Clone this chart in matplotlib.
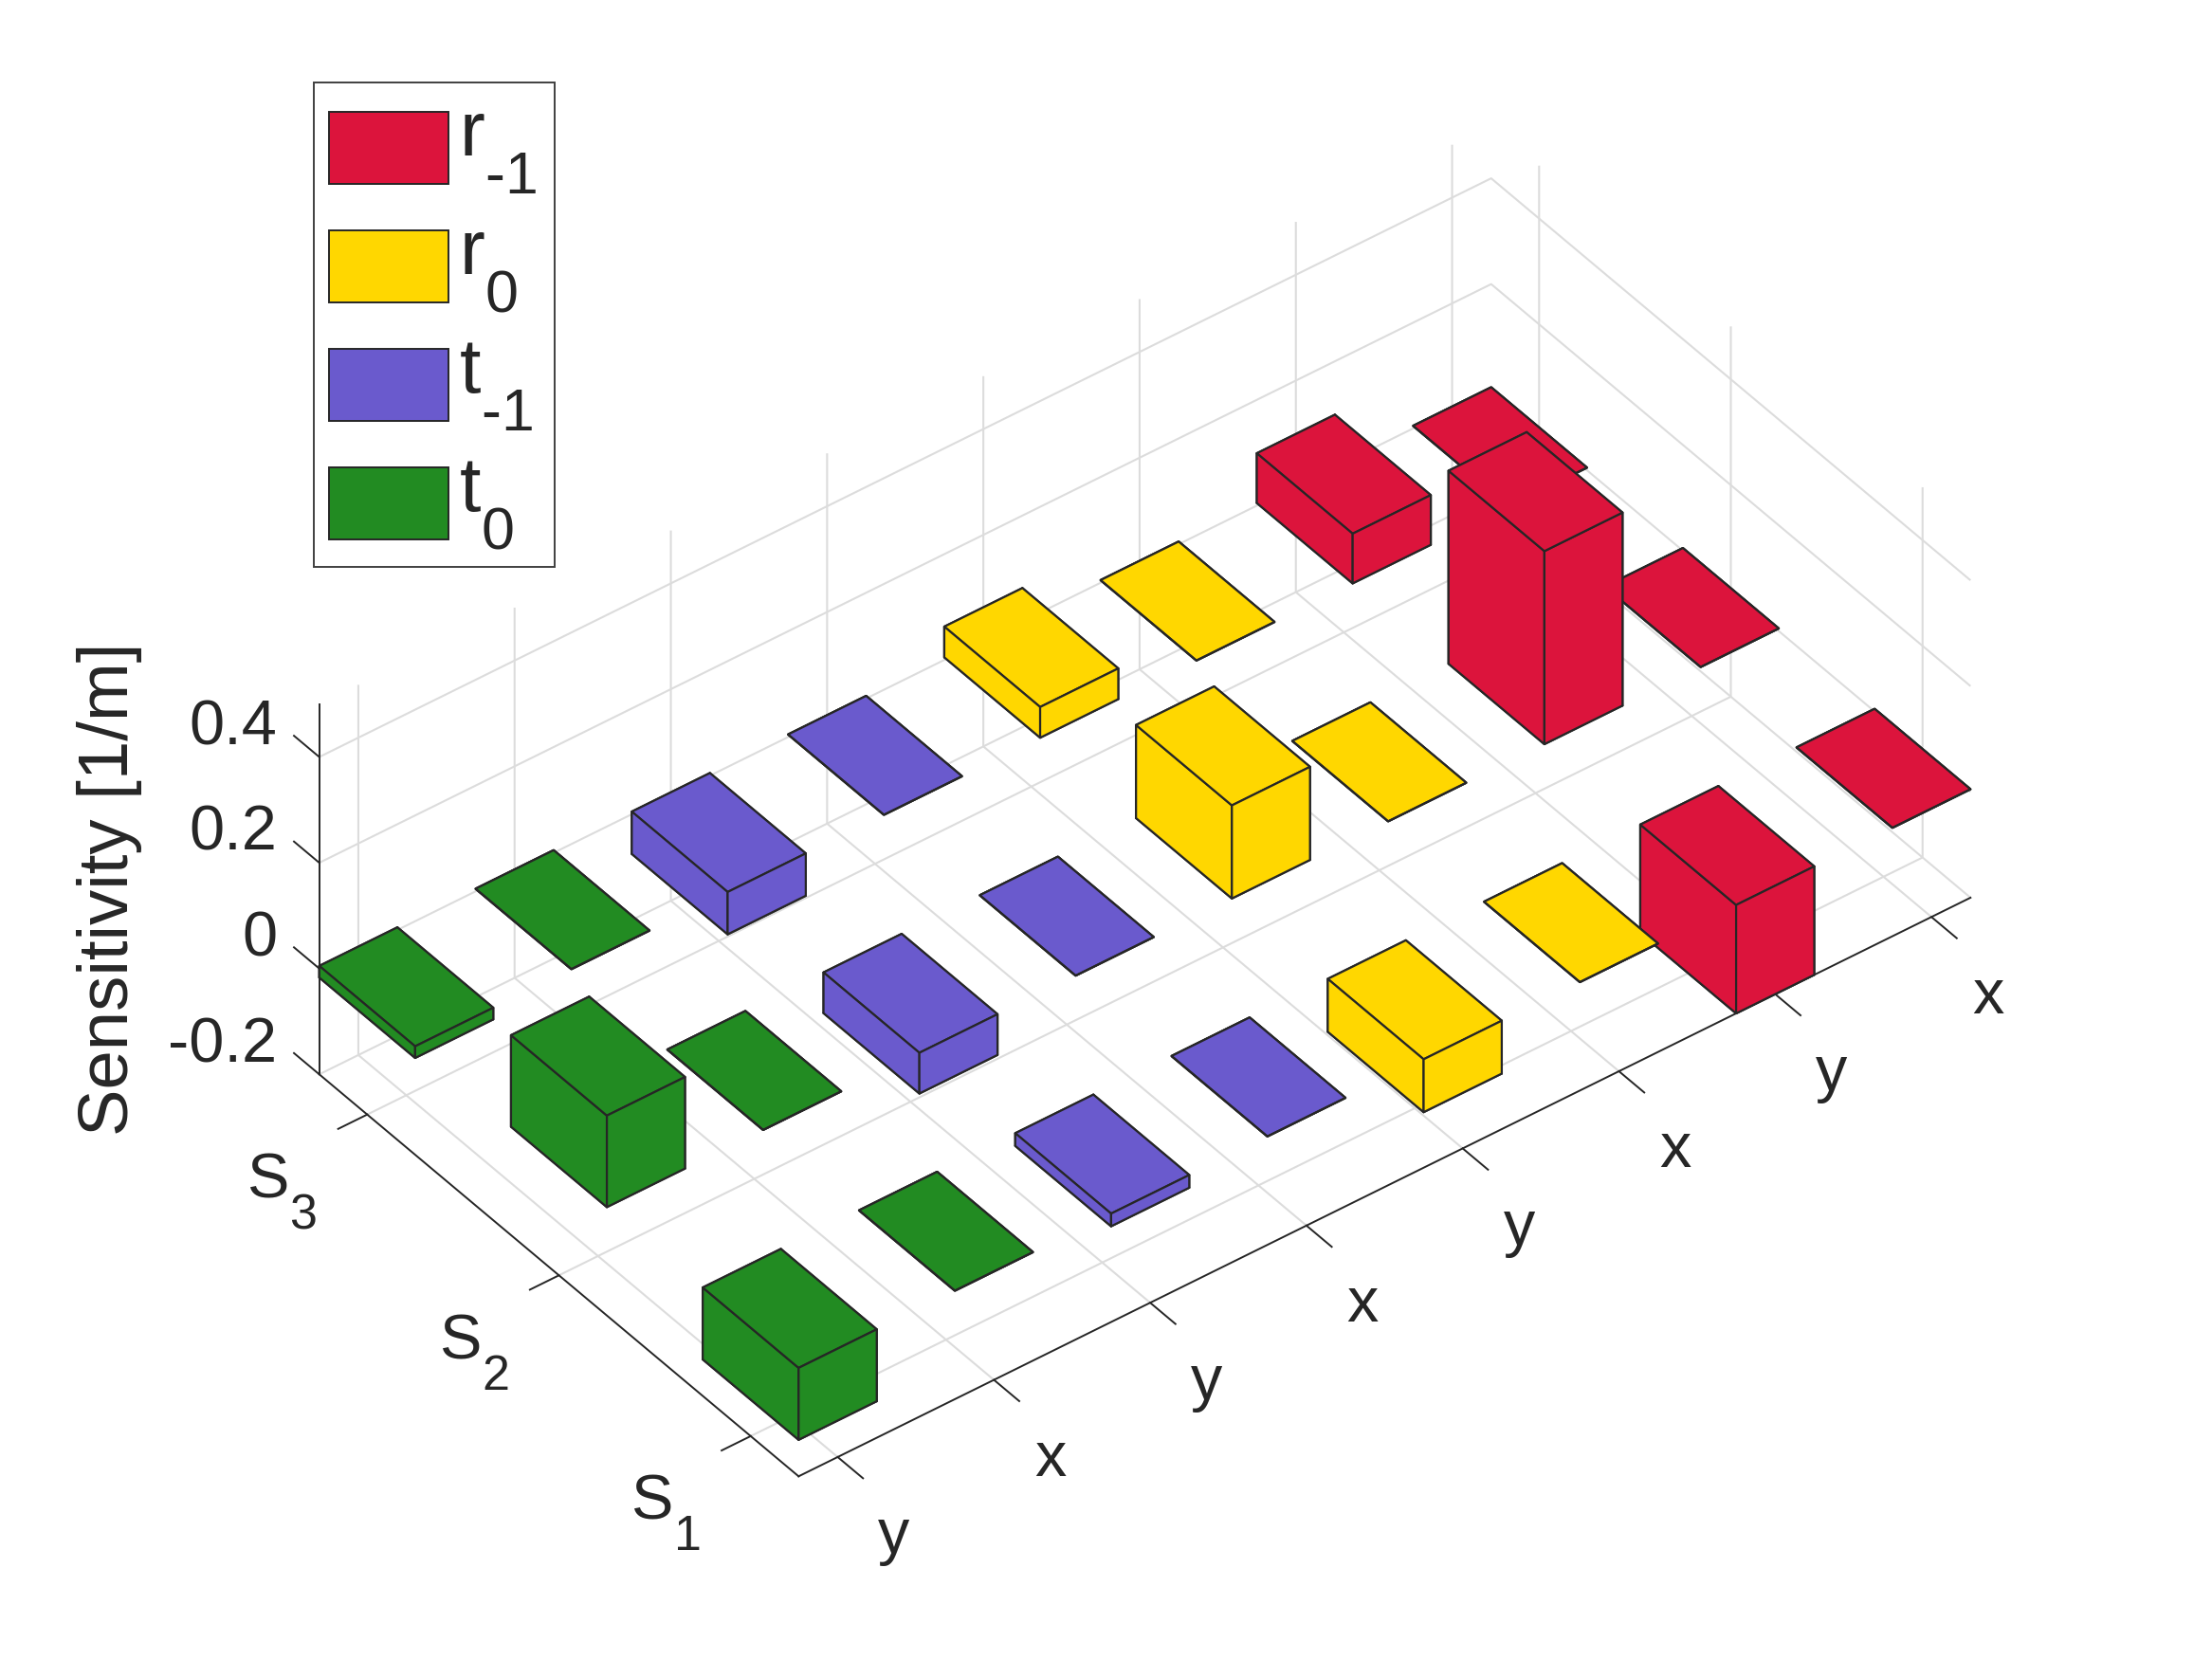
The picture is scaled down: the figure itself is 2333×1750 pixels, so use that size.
import matplotlib
matplotlib.use('Agg')
import matplotlib.pyplot as plt
import matplotlib._mathtext as _mt
from matplotlib.patches import Patch, Rectangle
from matplotlib.transforms import Affine2D
from mpl_toolkits.mplot3d import proj3d

_mt.SHRINK_FACTOR = 0.78
_mt.FontConstantsBase.sub1 = 0.95

# ---- data ----
x_labels = ['y', 'x', 'y', 'x', 'y', 'x', 'y', 'x']
y_labels = ['S$_{1}$', 'S$_{2}$', 'S$_{3}$']
z_ticks = [-0.2, 0, 0.2, 0.4]
z_labels = ['-0.2', '0', '0.2', '0.4']
base_level = 0.005
s1_values = [-0.136, 0, -0.024, 0, -0.10, 0, -0.205, 0]
s2_values = [0.173, 0, -0.077, 0, 0.176, 0, 0.365, 0]
s3_values = [-0.022, 0, -0.08, 0, 0.058, 0, 0.094, 0]
legend_labels = ['r$_{\u20101}$', 'r$_{0}$', 't$_{\u20101}$', 't$_{0}$']
crimson, gold, slate, forest = '#DC143C', '#FFD700', '#6A5ACD', '#228B22'
bar_colors = [forest, forest, slate, slate, gold, gold, crimson, crimson]
legend_colors = [crimson, gold, slate, forest]

INK = '#262626'
W, H, DPI = 2333, 1750, 200

plt.rcParams.update({
    'font.family': ['Liberation Sans', 'DejaVu Sans'],
    'mathtext.fontset': 'custom',
    'mathtext.rm': 'Liberation Sans',
    'mathtext.it': 'Liberation Sans:italic',
    'mathtext.bf': 'Liberation Sans:bold',
    'text.color': INK,
    'axes.edgecolor': INK,
    'axes.labelcolor': INK,
    'axes.linewidth': 0.7,
    'xtick.color': INK, 'ytick.color': INK,
    'xtick.major.width': 0.7, 'ytick.major.width': 0.7,
    'grid.color': '#dcdcdc', 'grid.linewidth': 0.75,
})

fig = plt.figure(figsize=(W / DPI, H / DPI), dpi=DPI, facecolor='white')
ax = fig.add_axes([0, 0, 1, 1], projection='3d', proj_type='ortho',
                  computed_zorder=False)
ax.patch.set_alpha(0)

order = 0
rows = [s1_values, s2_values, s3_values]
for r in range(len(rows) - 1, -1, -1):
    for c in range(len(x_labels) - 1, -1, -1):
        ax.bar3d(c + 1 - 0.25, r + 1 - 0.25, base_level, 0.5, 0.5, rows[r][c],
                 color=bar_colors[c], edgecolor=INK, linewidth=0.8,
                 shade=False, zorder=10 + order, clip_on=False)
        order += 1

ax.set_xlim(0.75, 8.25, view_margin=0)
ax.set_ylim(0.75, 3.25, view_margin=0)
ax.set_zlim(-0.2, 0.5, view_margin=0)
ax.view_init(elev=40.06, azim=-127.5)

ax.set_xticks(range(1, len(x_labels) + 1))
ax.set_xticklabels(x_labels)
ax.set_yticks(range(1, len(y_labels) + 1))
ax.set_yticklabels(y_labels)
ax.set_zticks(z_ticks)
ax.set_zticklabels(z_labels)
ax.zaxis._get_tickdir = lambda position: 1   # z ticks run along the y direction
ax.tick_params(axis='x', labelsize=24, pad=28)
ax.tick_params(axis='y', labelsize=24, pad=17)
ax.tick_params(axis='z', labelsize=24, pad=0.6)


def nudge(text, dx, dy):
    """Offset a 3D-placed text by a fixed number of pixels."""
    text.get_transform = lambda: ax.transData + Affine2D().translate(dx, dy)


for lab in ax.get_xticklabels():
    lab.set_ha('center'); lab.set_va('center')
    nudge(lab, 4, 5)
for lab in ax.get_yticklabels():
    lab.set_ha('center'); lab.set_va('center')
    nudge(lab, 4, -5)
for lab in ax.get_zticklabels():
    lab.set_ha('right'); lab.set_va('bottom')
    nudge(lab, 1, 4)

for axis, out in ((ax.xaxis, -0.66), (ax.yaxis, -0.31), (ax.zaxis, 0.66)):
    axis.set_pane_color((1, 1, 1, 0))
    axis.pane.set_edgecolor((1, 1, 1, 0))
    axis._axinfo['tick']['inward_factor'] = 0
    axis._axinfo['tick']['outward_factor'] = out

ax.zaxis.set_rotate_label(False)
ax.set_zlabel('Sensitivity [1/m]', rotation=90, fontsize=26.8, labelpad=20.6,
              va='center', ha='center')
nudge(ax.zaxis.label, 0, 24)

# place the box: front corner and right corner at their reference pixels
aspect = (1558, 830.5, 510.3)
target_front = (842.3, H - 1557.3)
target_right = (2078.3, H - 946.7)


def corner(x, y, z):
    ax.M = ax.get_proj()
    px, py, _ = proj3d.proj_transform(x, y, z, ax.M)
    return ax.transData.transform((px, py))


zoom = 1.0
ax.set_box_aspect(aspect, zoom=zoom)
fig.canvas.draw()
front = corner(0.75, 0.75, -0.2)
right = corner(8.25, 0.75, -0.2)
zoom *= (target_right[0] - target_front[0]) / (right[0] - front[0])
ax.set_box_aspect(aspect, zoom=zoom)
fig.canvas.draw()
front = corner(0.75, 0.75, -0.2)
ax.set_position([(target_front[0] - front[0]) / W,
                 (target_front[1] - front[1]) / H, 1, 1])

# legend: frame drawn to its measured size, entries inside it
fig.add_artist(Rectangle((331 / W, 1 - 598 / H), 254 / W, 511 / H,
                         transform=fig.transFigure, facecolor='white',
                         edgecolor='#404040', linewidth=0.7, zorder=4))
handles = [Patch(facecolor=c, edgecolor=INK, linewidth=0.7) for c in legend_colors]
fs = 29
px = fs * DPI / 72
leg = fig.legend(handles, legend_labels, loc='upper left', fontsize=fs,
                 bbox_to_anchor=(347 / W, 1 - 118 / H),
                 bbox_transform=fig.transFigure, borderaxespad=0,
                 handlelength=126 / px, handleheight=1.0745,
                 handletextpad=11 / px, borderpad=0, labelspacing=0.205,
                 frameon=False)
for t in leg.get_texts():
    t.set_position((0, 19))

fig.savefig('out.png', dpi=DPI)
